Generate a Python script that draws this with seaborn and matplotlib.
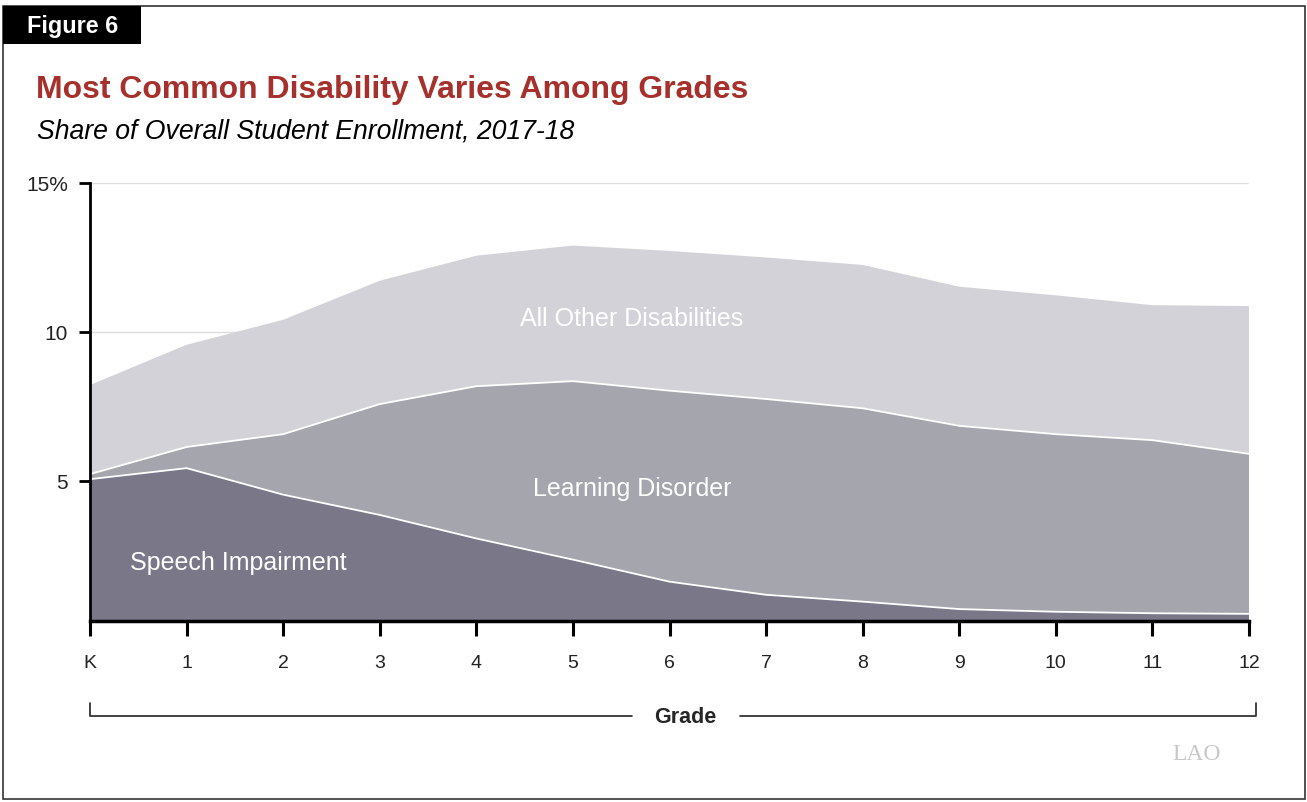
import numpy as np
import pandas as pd
import matplotlib
matplotlib.use("Agg")
import matplotlib.pyplot as plt
import seaborn as sns

# data (share of overall enrollment, %)
grades = ["K", "1", "2", "3", "4", "5", "6", "7", "8", "9", "10", "11", "12"]
speech = [5.06, 5.43, 4.54, 3.86, 3.07, 2.36, 1.62, 1.18, 0.95, 0.70, 0.61, 0.56, 0.54]
learning = [0.17, 0.71, 2.03, 3.72, 5.11, 5.99, 6.41, 6.57, 6.49, 6.15, 5.96, 5.81, 5.37]
other = [2.99, 3.43, 3.84, 4.14, 4.38, 4.55, 4.69, 4.75, 4.81, 4.67, 4.66, 4.53, 4.96]
series_names = ["Speech Impairment", "Learning Disorder", "All Other Disabilities"]
colors = ["#7a7888", "#a5a5ae", "#d3d2d8"]
y_ticks = [5, 10, 15]
y_labels = ["5", "10", "15%"]

sns.set_theme(style="white")
plt.rcParams["font.family"] = ["Liberation Sans", "DejaVu Sans"]

df = pd.DataFrame({"grade": grades, "speech": speech, "learning": learning, "other": other})
x = np.arange(len(df))

fig = plt.figure(figsize=(13.07, 8.03), dpi=100)
ax = fig.add_axes([90 / 1307, 1 - 622 / 803, (1249 - 90) / 1307, (622 - 184) / 803])

# light grid behind the areas
for yv in y_ticks:
    ax.axhline(yv, color="#dedede", lw=1, zorder=0)

ax.stackplot(x, df["speech"], df["learning"], df["other"], colors=colors,
             edgecolor="none", zorder=1)
# thin white boundaries between layers
cum1 = df["speech"].values
cum2 = cum1 + df["learning"].values
sns.lineplot(x=x, y=cum1, ax=ax, color="white", lw=1.3, zorder=2)
sns.lineplot(x=x, y=cum2, ax=ax, color="white", lw=1.3, zorder=2)

ax.set_xlim(0, len(df) - 1)
ax.set_ylim(0.3, 15)
ax.set_xticks(x)
ax.set_xticklabels(grades, fontsize=14, color="#222222")
ax.set_yticks(y_ticks)
ax.set_yticklabels(y_labels, fontsize=15, color="#222222")
ax.tick_params(axis="x", direction="out", length=11, width=2.2, color="black", pad=13)
ax.tick_params(axis="y", direction="out", length=8, width=2, color="black", pad=8)
ax.xaxis.set_ticks_position("bottom")
ax.yaxis.set_ticks_position("left")
sns.despine(ax=ax, top=True, right=True)
ax.spines["left"].set_linewidth(2)
ax.spines["left"].set_color("black")
ax.spines["bottom"].set_linewidth(2.5)
ax.spines["bottom"].set_color("black")
ax.spines["left"].set_zorder(5)
ax.spines["bottom"].set_zorder(5)
ax.set_xlabel("")
ax.set_ylabel("")

# area labels
ax.text(5.61, 10.47, series_names[2], color="white", fontsize=18, ha="center", va="center", zorder=3)
ax.text(5.61, 4.77, series_names[1], color="white", fontsize=18, ha="center", va="center", zorder=3)
ax.text(1.54, 2.28, series_names[0], color="white", fontsize=18, ha="center", va="center", zorder=3)

# frame around the figure
W, H = 1307, 803
def fx(px):
    return px / W
def fy(py):
    return 1 - py / H

frame = plt.Rectangle((fx(3), fy(800)), fx(1305) - fx(3), fy(7) - fy(800),
                      transform=fig.transFigure, fill=False, edgecolor="#333333", lw=1.2)
fig.add_artist(frame)
tag = plt.Rectangle((fx(3), fy(45)), fx(141) - fx(3), fy(7) - fy(45),
                    transform=fig.transFigure, facecolor="black", edgecolor="none")
fig.add_artist(tag)
fig.text(fx(27), fy(26), "Figure 6", color="white", fontsize=16.8, fontweight="bold", va="center", ha="left")

fig.text(fx(36), fy(90), "Most Common Disability Varies Among Grades", color="#a6302b",
         fontsize=23, fontweight="bold", va="center", ha="left")
fig.text(fx(37), fy(131), "Share of Overall Student Enrollment, 2017-18", color="black",
         fontsize=19.2, style="italic", va="center", ha="left")

# Grade bracket
fig.add_artist(plt.Line2D([fx(90), fx(90), fx(632)], [fy(704), fy(717), fy(717)],
                          transform=fig.transFigure, color="#222222", lw=1.2))
fig.add_artist(plt.Line2D([fx(740), fx(1256), fx(1256)], [fy(717), fy(717), fy(704)],
                          transform=fig.transFigure, color="#222222", lw=1.2))
fig.text(fx(685), fy(718), "Grade", fontsize=15.5, fontweight="bold", ha="center", va="center")

# logo text
fig.text(fx(1197), fy(755), "LAO", fontsize=17, color="#c8c8c8", family="Liberation Serif",
         ha="center", va="center")

fig.savefig("out.png", dpi=100)
